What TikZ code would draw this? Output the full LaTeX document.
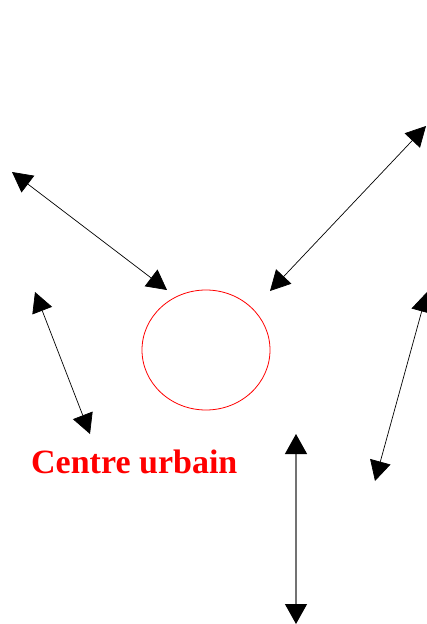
\documentclass[tikz,border=0pt]{standalone}
\usepackage{fontspec}
\setmainfont{Liberation Serif}
\usetikzlibrary{arrows.meta,shapes.geometric}
\tikzset{
  biarrow/.style={draw=black, line width=0.7pt, {Triangle[length=20pt,width=21pt]}-{Triangle[length=20pt,width=21pt]}},
  grayarrow/.style={draw=black!55, line width=1.2pt, {Triangle[length=20pt,width=22pt,fill=black,color=black]}-{Triangle[length=20pt,width=22pt,fill=black,color=black]}},
  centre/.style={draw=red, line width=0.8pt, ellipse, minimum width=128pt, minimum height=120pt, inner sep=0pt},
  label/.style={text=red, font=\bfseries\fontsize{34}{40}\selectfont, inner sep=0pt, anchor=base west}
}
\begin{document}
\begin{tikzpicture}[x=1pt,y=-1pt]
\useasboundingbox[fill=white] (0,0) rectangle (427,624);
\node[centre] (c) at (206,350) {};
\node[label] (t) at (31,473) {Centre urbain};
\coordinate (a1) at (12,172);
\coordinate (b1) at (167,290);
\coordinate (a2) at (426,126);
\coordinate (b2) at (270,291);
\coordinate (a3) at (35,292);
\coordinate (b3) at (90,434);
\coordinate (a4) at (427,292);
\coordinate (b4) at (375,481);
\coordinate (a5) at (296,434);
\coordinate (b5) at (296,624);
\draw[biarrow] (a1) -- (b1);
\draw[biarrow] (a2) -- (b2);
\draw[biarrow] (a3) -- (b3);
\draw[biarrow] (a4) -- (b4);
\draw[grayarrow] (a5) -- (b5);
\end{tikzpicture}
\end{document}
